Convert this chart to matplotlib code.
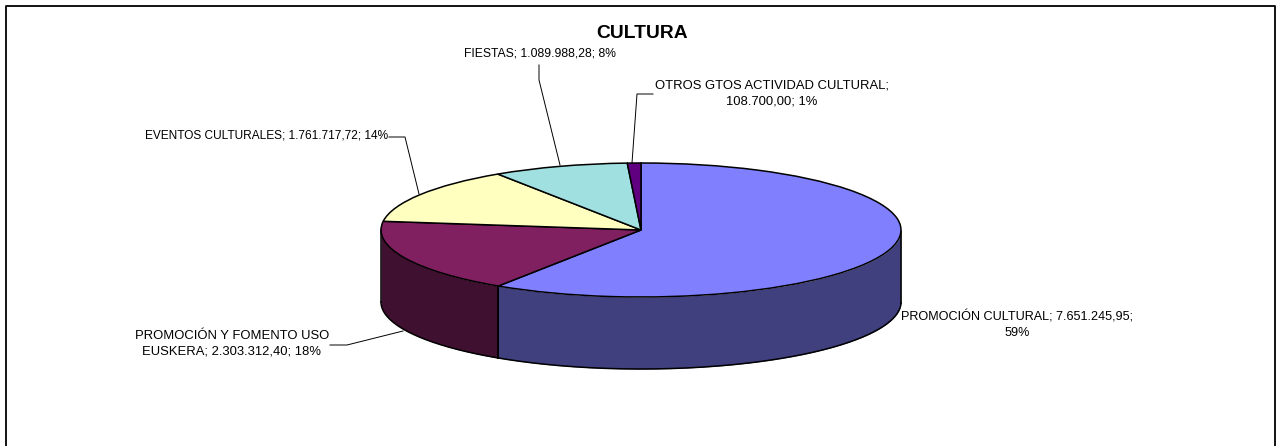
import numpy as np
import matplotlib
matplotlib.use('Agg')
import matplotlib.pyplot as plt

W, H = 1284, 446

# data
names = ['PROMOCIÓN CULTURAL', 'PROMOCIÓN Y FOMENTO USO\nEUSKERA', 'EVENTOS CULTURALES',
         'FIESTAS', 'OTROS GTOS ACTIVIDAD CULTURAL']
values = [7651245.95, 2303312.40, 1761717.72, 1089988.28, 108700.00]
value_sep = ['; ', '; ', '; ', '; ', ';\n']
pct_sep = [';\n', '; ', '; ', '; ', '; ']
top_colors = ['#8080FF', '#802060', '#FFFFC0', '#A0E0E0', '#600080']
wall_colors = ['#40407F', '#401030', '#7F7F60', '#507070', '#300040']

# ellipse geometry in pixels
cx, cy, rx, ry = 641, 230, 260, 67
depth = 72 / ry

plt.rcParams['font.family'] = ['Liberation Sans', 'DejaVu Sans']

fig = plt.figure(figsize=(W / 100, H / 100), dpi=100)
ax = fig.add_axes([0, 0, 1, 1])

wedges, _ = ax.pie(values, startangle=90, counterclock=False, colors=top_colors,
                   wedgeprops={'edgecolor': 'black', 'linewidth': 1.1, 'zorder': 3})
ax.set_aspect('auto')
ax.set_xlim(-cx / rx, (W - cx) / rx)
ax.set_ylim((cy - H) / ry, cy / ry)

# side wall, only the part facing front
for w, col in zip(wedges, wall_colors):
    t = np.radians(np.linspace(w.theta1, w.theta2, 300))
    t = t[np.sin(t) <= 0]
    if len(t) == 0:
        continue
    x, y = np.cos(t), np.sin(t)
    ax.fill_between(x, y, y - depth, color=col, linewidth=0, zorder=1)
    ax.plot(x, y - depth, color='black', lw=1.1, zorder=2)
    ax.plot([x[0], x[0]], [y[0], y[0] - depth], color='black', lw=1.1, zorder=2)
    ax.plot([x[-1], x[-1]], [y[-1], y[-1] - depth], color='black', lw=1.1, zorder=2)


def px(x, y):
    return x / W, 1 - y / H


def polyline(xs, ys, lw):
    fx, fy = px(np.array(xs, dtype=float), np.array(ys, dtype=float))
    ax.plot(fx, fy, color='black', lw=lw, transform=fig.transFigure, clip_on=False, zorder=4)


# chart border, open at the bottom
polyline([6, 6, 1275, 1275], [446, 6, 6, 446], 1.3)

# labels
total = sum(values)
label_pos = [(1017, 324.5), (232, 344), (267, 136), (540, 53), (772, 93.5)]
label_size = [9.05, 9.35, 8.55, 8.7, 9.35]
for name, v, s1, s2, (lx, ly), fs in zip(names, values, value_sep, pct_sep, label_pos, label_size):
    val = f'{v:,.2f}'.replace(',', 'X').replace('.', ',').replace('X', '.')
    txt = f'{name}{s1}{val}{s2}{round(v / total * 100)}%'
    fx, fy = px(lx, ly)
    fig.text(fx, fy, txt, ha='center', va='center', fontsize=fs, linespacing=1.36, color='black')

# leader lines
polyline([539, 539, 560], [65, 80, 165], 0.7)
polyline([389, 405, 419], [137, 137, 194], 0.7)
polyline([653, 637, 632], [94, 94, 163], 0.7)
polyline([330, 347, 403], [345, 345, 331], 0.7)

fx, fy = px(642, 33)
fig.text(fx, fy, 'CULTURA', ha='center', va='center', fontsize=13.9, fontweight='bold')

fig.savefig('out.png', dpi=100)
